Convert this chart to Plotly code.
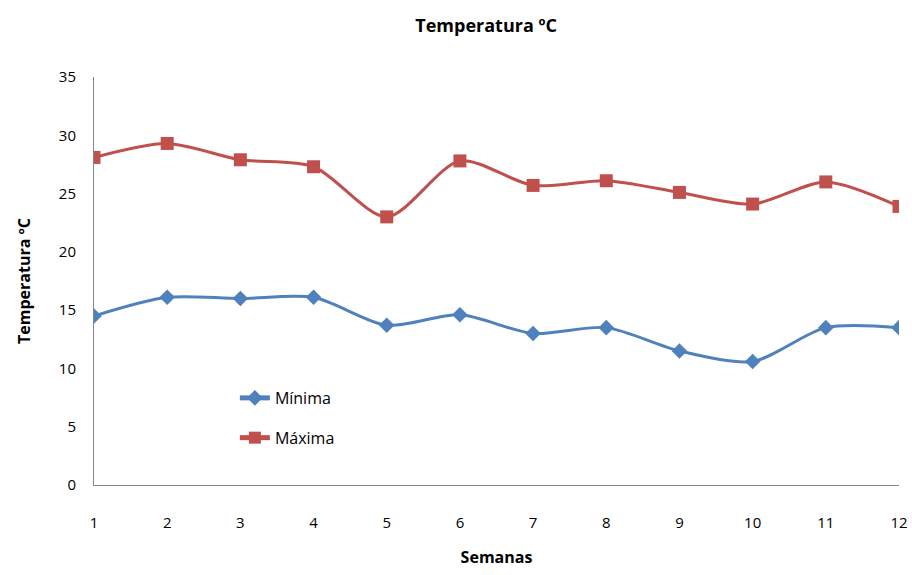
import plotly.graph_objects as go

semanas = [1, 2, 3, 4, 5, 6, 7, 8, 9, 10, 11, 12]
minima = [14.5, 16.1, 16.0, 16.1, 13.7, 14.6, 13.0, 13.5, 11.5, 10.6, 13.5, 13.5]
maxima = [28.1, 29.3, 27.9, 27.3, 23.0, 27.8, 25.7, 26.1, 25.1, 24.1, 26.0, 23.9]

fig = go.Figure()
fig.add_trace(go.Scatter(
    x=semanas, y=minima, name="Mínima", mode="lines+markers", legendgroup="a",
    line=dict(color="#4F81BD", width=3, shape="spline", smoothing=0.8),
    marker=dict(symbol="diamond", size=12, color="#4F81BD"),
))
fig.add_trace(go.Scatter(
    x=semanas, y=maxima, name="Máxima", mode="lines+markers", legendgroup="b",
    line=dict(color="#C0504D", width=3, shape="spline", smoothing=0.8),
    marker=dict(symbol="square", size=13, color="#C0504D"),
))

font_family = "Open Sans, Liberation Sans, sans-serif"
fig.update_layout(
    width=912, height=575,
    paper_bgcolor="white", plot_bgcolor="white",
    margin=dict(l=94, r=13, t=77, b=90),
    font=dict(family=font_family, size=15, color="#000000"),
    title=dict(text="<b>Temperatura ºC</b>", x=0.533, xanchor="center",
               y=0.955, yanchor="middle", font=dict(size=18)),
    showlegend=True,
    legend=dict(x=0.175, y=0.255, xanchor="left", yanchor="top",
                bgcolor="rgba(0,0,0,0)", font=dict(size=16),
                tracegroupgap=16, itemsizing="constant"),
    xaxis=dict(
        range=[1, 12], tickmode="array", tickvals=semanas,
        ticktext=[str(s) for s in semanas], automargin=False,
        showgrid=False, zeroline=False, showline=True,
        linecolor="#868686", linewidth=1, ticks="",
        ticklabelstandoff=24,
        title=dict(text="<b>Semanas</b>", standoff=20, font=dict(size=16)),
    ),
    yaxis=dict(
        range=[0, 35], tickmode="array", tickvals=[0, 5, 10, 15, 20, 25, 30, 35],
        showgrid=False, zeroline=False, showline=True, automargin=False,
        linecolor="#868686", linewidth=1, ticks="",
        ticklabelstandoff=14,
        title=dict(text="<b>Temperatura ºC</b>", standoff=24, font=dict(size=16)),
    ),
)
fig.write_html("out.html")
